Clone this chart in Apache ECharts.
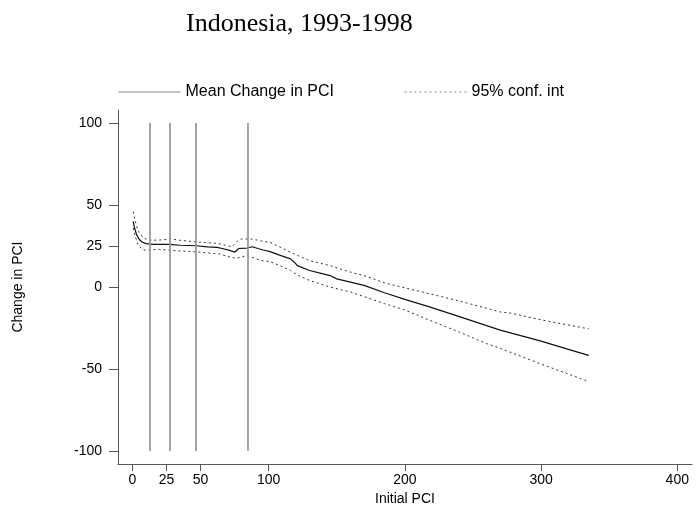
<!DOCTYPE html>
<html>
<head>
<meta charset="utf-8">
<script src="https://cdn.jsdelivr.net/npm/echarts@6/dist/echarts.min.js"></script>
<style>
html,body{margin:0;padding:0;background:#fff;}
#chart{width:696px;height:511px;}
</style>
</head>
<body>
<div id="chart"></div>
<script>
// ---- data ----
const titleText = "Indonesia, 1993-1998";
const xTicks = [0, 25, 50, 100, 200, 300, 400];
const yTicks = [-100, -50, 0, 25, 50, 100];
const cutoffs = [12.8, 27, 46.6, 84.6];

const meanX = [0.5, 1.5, 3, 5, 7, 10, 15, 20, 27, 35, 47, 55, 62, 66, 72, 75, 78, 84, 88, 92, 96, 101, 108, 116, 119, 121, 130, 140, 145, 150, 160, 170, 185, 200, 218, 240, 260, 270, 300, 320, 335];
const meanY = [40, 36, 32, 29, 27.5, 26.5, 26, 26, 26, 25.5, 25.2, 24.5, 24.2, 23.5, 22.2, 21.2, 23.5, 23.8, 24.6, 23.5, 22.6, 21.6, 19.5, 17.2, 15, 13.1, 10.1, 8, 7, 5, 3, 1, -3.5, -7.5, -12.1, -18, -23.5, -26.3, -33, -38, -41.7];

const upperX = [0.5, 1.5, 3, 5, 8, 12, 20, 25, 27, 35, 47, 55, 62, 68, 73, 77, 80, 88, 95, 101, 108, 116, 122, 130, 145, 160, 170, 185, 200, 218, 240, 270, 277, 300, 335];
const upperY = [46, 42, 37, 33, 30, 28.5, 28.7, 29, 29.5, 28.5, 27.5, 27, 26.7, 25.5, 24.6, 28, 29.3, 29.3, 28, 27.3, 24.5, 21.2, 19, 16.1, 13.1, 9.1, 7, 2.6, -0.5, -4.1, -8.5, -15.2, -15.8, -20, -25.5];

const lowerX = [0.5, 2, 4, 7, 10, 20, 27, 35, 47, 55, 64, 72, 76, 84, 95, 101, 108, 116, 122, 130, 145, 160, 185, 200, 218, 240, 260, 270, 300, 335];
const lowerY = [36, 31, 26, 23, 22.5, 23, 22.5, 22, 21.5, 20.8, 20.2, 18.2, 17.5, 19.2, 16.1, 15.5, 13.1, 10.1, 7, 4, 0, -3, -10.1, -14, -20.2, -27.5, -34.5, -37.4, -47, -57.6];

const meanName = "Mean Change in PCI";
const ciName = "95% conf. int";

const zip = (xs, ys) => xs.map((x, i) => [x, ys[i]]);

const chart = echarts.init(document.getElementById('chart'), null, {renderer: 'canvas'});
const font = "'Liberation Sans', Arial, sans-serif";

const legendCommon = {
  padding: 0, itemWidth: 62, itemHeight: 14, top: 84,
  textStyle: {fontFamily: font, fontSize: 16, color: '#000', padding: [0, 0, 0, 0]},
  itemStyle: {opacity: 0},
  lineStyle: {color: '#888', width: 1}
};

const option = {
  animation: false,
  backgroundColor: '#fff',
  title: {
    text: titleText,
    left: 181, top: 6,
    textStyle: {fontFamily: "'Liberation Serif', 'Times New Roman', serif", fontSize: 26, fontWeight: 'normal', color: '#000'}
  },
  legend: [
    Object.assign({data: [meanName], left: 118}, legendCommon),
    Object.assign({data: [ciName], left: 404}, legendCommon)
  ],
  grid: {left: 118, right: 4, top: 110, bottom: 45, containLabel: false},
  xAxis: {
    type: 'value', min: -10.65, max: 410.8,
    name: 'Initial PCI', nameLocation: 'middle', nameGap: 22,
    nameTextStyle: {fontFamily: font, fontSize: 14, color: '#000'},
    splitLine: {show: false},
    axisLine: {show: true, onZero: false, lineStyle: {color: '#555', width: 1}},
    axisTick: {show: true, length: 7, customValues: xTicks, lineStyle: {color: '#555'}},
    axisLabel: {customValues: xTicks, margin: 9, fontFamily: font, fontSize: 14, color: '#000'}
  },
  yAxis: {
    type: 'value', min: -108, max: 108,
    name: 'Change in PCI', nameLocation: 'middle', nameGap: 93, nameRotate: 90,
    nameTextStyle: {fontFamily: font, fontSize: 14, color: '#000'},
    splitLine: {show: false},
    axisLine: {show: true, onZero: false, lineStyle: {color: '#555', width: 1}},
    axisTick: {show: true, length: 9, customValues: yTicks, lineStyle: {color: '#555'}},
    axisLabel: {customValues: yTicks, margin: 16, fontFamily: font, fontSize: 14, color: '#000'}
  },
  series: [
    {
      type: 'line', name: 'cutoffs', data: [], silent: true, z: 1,
      markLine: {
        silent: true, symbol: 'none', label: {show: false},
        lineStyle: {color: '#9a9a9a', width: 1.8, type: 'solid'},
        data: cutoffs.map(c => [{coord: [c, -100]}, {coord: [c, 100]}])
      }
    },
    {type: 'line', name: meanName, data: zip(meanX, meanY), symbol: 'none', z: 3,
     lineStyle: {color: '#111', width: 1.2}},
    {type: 'line', name: ciName, data: zip(upperX, upperY), symbol: 'none', z: 2,
     lineStyle: {color: '#333', width: 1, type: [2, 3]}},
    {type: 'line', name: ciName, data: zip(lowerX, lowerY), symbol: 'none', z: 2,
     lineStyle: {color: '#333', width: 1, type: [2, 3]}}
  ]
};
chart.setOption(option);
</script>
</body>
</html>
